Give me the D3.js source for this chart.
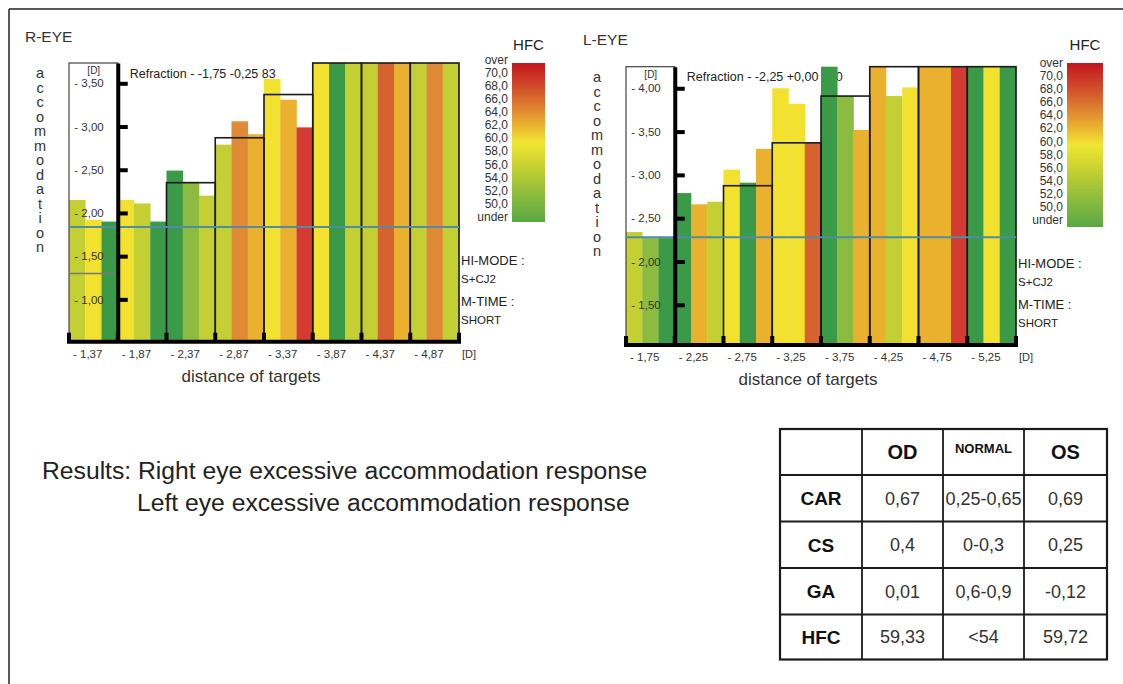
<!DOCTYPE html>
<html>
<head>
<meta charset="utf-8">
<script src="https://cdn.jsdelivr.net/npm/d3@7"></script>
<style>
  body { margin: 0; background: #fff; }
  svg { display: block; font-family: "Liberation Sans", Arial, sans-serif; }
</style>
</head>
<body>
<div id="chart"></div>
<script>
// ---- data ----
// R-EYE
const rTargets = ["- 1,37", "- 1,87", "- 2,37", "- 2,87", "- 3,37", "- 3,87", "- 4,37", "- 4,87"];
const rAccom = [[2.15, 1.92, 1.90], [2.15, 2.11, 1.90], [2.49, 2.36, 2.20], [2.79, 3.06, 2.91],
                [3.55, 3.31, 2.99], [3.90, 3.90, 3.90], [3.90, 3.90, 3.90], [3.90, 3.90, 3.90]];
const rHfc = [[55.5, 59, 49], [59, 55.5, 49], [49, 52.5, 55.5], [55.5, 65.5, 62.5],
              [59, 62.5, 70.5], [59, 49, 55.5], [55.5, 68, 62.5], [55.5, 65.5, 55.5]];
const rOutline = [null, null, 2.35, 2.87, 3.37, 3.87, 4.37, 4.87];
const rTicks = [1.0, 1.5, 2.0, 2.5, 3.0, 3.5];
const rRefLine = 1.836;
const rGrayLine = 1.30;
const rRefraction = "Refraction - -1,75 -0,25 83";

// L-EYE
const lTargets = ["- 1,75", "- 2,25", "- 2,75", "- 3,25", "- 3,75", "- 4,25", "- 4,75", "- 5,25"];
const lAccom = [[2.34, 2.27, 2.27], [2.79, 2.66, 2.69], [3.06, 2.91, 3.30], [4.00, 3.82, 3.37],
                [4.50, 3.91, 3.52], [4.50, 3.91, 4.01], [4.50, 4.50, 4.50], [4.50, 4.50, 4.50]];
const lHfc = [[55.5, 52.5, 49], [49, 62.5, 55.5], [59, 49, 62.5], [59, 59, 68],
              [49, 52.5, 62.5], [62.5, 55.5, 59], [62.5, 62.5, 70.5], [49, 59, 49]];
const lOutline = [null, null, 2.875, 3.37, 3.91, 4.40, 4.90, 5.40];
const lTicks = [1.5, 2.0, 2.5, 3.0, 3.5, 4.0];
const lRefLine = 2.28;
const lRefraction = "Refraction - -2,25 +0,00 180";

// HFC legend
const hfcLabels = ["over", "70,0", "68,0", "66,0", "64,0", "62,0", "60,0", "58,0", "56,0", "54,0", "52,0", "50,0", "under"];
const hfcThresholds = [51, 54, 57, 61, 64, 67, 69];
const hfcColors = ["#3b9a47", "#8cbc3f", "#c3cf32", "#f3e12f", "#eab12f", "#e08a36", "#d6632f", "#d43c33"];

// results table
const tableHead = ["", "OD", "NORMAL", "OS"];
const tableRows = ["CAR", "CS", "GA", "HFC"];
const odValues = ["0,67", "0,4", "0,01", "59,33"];
const normalValues = ["0,25-0,65", "0-0,3", "0,6-0,9", "<54"];
const osValues = ["0,69", "0,25", "-0,12", "59,72"];

const resultLines = ["Results: Right eye excessive accommodation response",
                     "Left eye excessive accommodation response"];

// ---- drawing ----
const W = 1123, H = 684;
const svg = d3.select("#chart").append("svg")
    .attr("width", W)
    .attr("height", H);

// page frame
svg.append("line").attr("x1", 9).attr("y1", 9).attr("x2", W).attr("y2", 9)
    .attr("stroke", "#222").attr("stroke-width", 1.5);
svg.append("line").attr("x1", 9).attr("y1", 9).attr("x2", 9).attr("y2", H)
    .attr("stroke", "#222").attr("stroke-width", 1.5);

const color = d3.scaleThreshold().domain(hfcThresholds).range(hfcColors);

function fmt(v) { return "- " + v.toFixed(2).replace(".", ","); }

function drawEye(o) {
    const g = svg.append("g");

    const x = d3.scaleBand().domain(o.targets).range([o.x0, o.x1]).padding(0);
    const y = d3.scaleLinear().domain(o.yDomain).range([o.bottom, o.top]).clamp(true);
    const sub = d3.scaleBand().domain([0, 1, 2]).range([0, x.bandwidth()]);
    const axisX = x(o.targets[1]);

    // title
    g.append("text").attr("x", o.titleX).attr("y", o.titleY)
        .attr("font-size", 15.5).attr("fill", "#333").text(o.title);

    // vertical "accommodation"
    g.append("text")
        .attr("font-size", 14.5).attr("fill", "#333").attr("text-anchor", "middle")
        .selectAll("tspan")
        .data("accommodation".split(""))
        .join("tspan")
        .attr("x", o.labelX)
        .attr("y", (d, i) => o.labelY + i * 14.5)
        .text(d => d);

    // refraction text sits behind the bars
    g.append("text").attr("x", axisX + 12).attr("y", o.refY)
        .attr("font-size", 12.5).attr("fill", "#222").text(o.refraction);

    // bars
    const bars = [];
    o.targets.forEach((t, gi) => {
        o.accom[gi].forEach((v, bi) => bars.push({ t: t, b: bi, v: v, hfc: o.hfc[gi][bi] }));
    });
    g.append("g").selectAll("rect")
        .data(bars)
        .join("rect")
        .attr("x", d => x(d.t) + sub(d.b))
        .attr("width", sub.bandwidth() + 0.3)
        .attr("y", d => y(d.v))
        .attr("height", d => o.bottom - y(d.v))
        .attr("fill", d => color(d.hfc));

    // left box
    g.append("rect")
        .attr("x", o.x0).attr("y", o.top)
        .attr("width", axisX - o.x0).attr("height", o.bottom - o.top)
        .attr("fill", "none").attr("stroke", "#444").attr("stroke-width", 1.2);

    // target outlines
    g.append("g").selectAll("rect")
        .data(o.targets.map((t, i) => ({ t: t, v: o.outline[i] })).filter(d => d.v != null))
        .join("rect")
        .attr("x", d => x(d.t))
        .attr("width", x.bandwidth())
        .attr("y", d => y(d.v))
        .attr("height", d => o.bottom - y(d.v))
        .attr("fill", "none")
        .attr("stroke", "#1a1a1a")
        .attr("stroke-width", 1.6);

    // reference line across the chart
    g.append("line")
        .attr("x1", o.x0).attr("x2", o.x1)
        .attr("y1", y(o.refLine)).attr("y2", y(o.refLine))
        .attr("stroke", "#4f8ca5").attr("stroke-width", 2);

    if (o.grayLine != null) {
        g.append("line")
            .attr("x1", o.x0).attr("x2", axisX)
            .attr("y1", y(o.grayLine)).attr("y2", y(o.grayLine))
            .attr("stroke", "#777").attr("stroke-width", 1.5);
    }

    // y axis (ticks point right, labels inside the left box)
    const yAxis = d3.axisLeft(y)
        .tickValues(o.ticks)
        .tickSize(-10)
        .tickSizeOuter(0)
        .tickPadding(14)
        .tickFormat(fmt);
    const ya = g.append("g")
        .attr("transform", "translate(" + axisX + ",0)")
        .call(yAxis);
    ya.select(".domain").attr("stroke", "#000").attr("stroke-width", 4);
    ya.selectAll(".tick line").attr("stroke", "#000").attr("stroke-width", 4);
    ya.selectAll(".tick text")
        .attr("font-size", 11.5).attr("fill", "#333")
        .attr("font-family", "Liberation Sans, Arial, sans-serif");

    g.append("text").attr("x", axisX - 24).attr("y", o.top + 11)
        .attr("font-size", 10).attr("fill", "#333").attr("text-anchor", "middle").text("[D]");

    // bottom axis
    g.append("line")
        .attr("x1", o.x0 - 2).attr("x2", o.x1 + 2)
        .attr("y1", o.bottom).attr("y2", o.bottom)
        .attr("stroke", "#000").attr("stroke-width", 4);
    const bounds = o.targets.map(t => x(t)).concat([o.x1]);
    g.append("g").selectAll("line")
        .data(bounds)
        .join("line")
        .attr("x1", d => d).attr("x2", d => d)
        .attr("y1", o.bottom).attr("y2", o.bottom - 9)
        .attr("stroke", "#000").attr("stroke-width", 4);
    g.append("g").selectAll("text")
        .data(o.targets)
        .join("text")
        .attr("x", d => x(d) + 4)
        .attr("y", o.bottom + 16)
        .attr("font-size", 11.5).attr("fill", "#333")
        .text(d => d);
    g.append("text").attr("x", o.x1 + 3).attr("y", o.bottom + 16)
        .attr("font-size", 11).attr("fill", "#333").text("[D]");

    g.append("text")
        .attr("x", (o.x0 + o.x1) / 2 - 13).attr("y", o.bottom + 40)
        .attr("text-anchor", "middle").attr("font-size", 17).attr("fill", "#333")
        .text("distance of targets");

    // mode info
    const info = [["HI-MODE :", 13, 0], ["S+CJ2", 11.5, 18], ["M-TIME :", 13, 41], ["SHORT", 11.5, 59]];
    g.append("g").selectAll("text")
        .data(info)
        .join("text")
        .attr("x", o.x1 + 2)
        .attr("y", d => o.infoY + d[2])
        .attr("font-size", d => d[1]).attr("fill", "#222")
        .text(d => d[0]);

    // HFC legend
    const gradId = "grad" + o.title;
    const grad = svg.append("defs").append("linearGradient")
        .attr("id", gradId).attr("x1", 0).attr("y1", 0).attr("x2", 0).attr("y2", 1);
    [[0, "#c4161d"], [0.14, "#d0482a"], [0.3, "#e08a30"], [0.4, "#eab72f"], [0.5, "#f2e632"],
     [0.66, "#c4d030"], [0.82, "#8fbe3c"], [1, "#5aa844"]].forEach(s => {
        grad.append("stop").attr("offset", s[0]).attr("stop-color", s[1]);
    });
    g.append("rect")
        .attr("x", o.legX).attr("y", o.legTop)
        .attr("width", o.legW).attr("height", o.legBottom - o.legTop)
        .attr("fill", "url(#" + gradId + ")");
    g.append("text")
        .attr("x", o.legX + o.legW / 2).attr("y", o.legTop - 13)
        .attr("text-anchor", "middle").attr("font-size", 15).attr("fill", "#222")
        .text("HFC");
    const step = (o.legLabelBottom - o.legLabelTop) / (hfcLabels.length - 1);
    g.append("g").selectAll("text")
        .data(hfcLabels)
        .join("text")
        .attr("x", o.legX - 4)
        .attr("y", (d, i) => o.legLabelTop + i * step)
        .attr("text-anchor", "end").attr("font-size", 12).attr("fill", "#333")
        .text(d => d);
}

drawEye({
    title: "R-EYE", titleX: 25, titleY: 42,
    labelX: 40, labelY: 78,
    targets: rTargets, accom: rAccom, hfc: rHfc, outline: rOutline, ticks: rTicks,
    refLine: rRefLine, grayLine: rGrayLine, refraction: rRefraction, refY: 78,
    x0: 69, x1: 459, top: 63, bottom: 341.7, yDomain: [0.51, 3.735],
    infoY: 265,
    legX: 512, legW: 33, legTop: 63, legBottom: 222,
    legLabelTop: 63.5, legLabelBottom: 221
});

drawEye({
    title: "L-EYE", titleX: 583, titleY: 45,
    labelX: 597, labelY: 82,
    targets: lTargets, accom: lAccom, hfc: lHfc, outline: lOutline, ticks: lTicks,
    refLine: lRefLine, grayLine: null, refraction: lRefraction, refY: 81,
    x0: 626, x1: 1016, top: 66.7, bottom: 345, yDomain: [1.036, 4.249],
    infoY: 268,
    legX: 1067, legW: 36, legTop: 63, legBottom: 227,
    legLabelTop: 67, legLabelBottom: 224
});

// results text
svg.append("text").attr("x", 42).attr("y", 479)
    .attr("font-size", 24.7).attr("fill", "#222").text(resultLines[0]);
svg.append("text").attr("x", 137).attr("y", 511)
    .attr("font-size", 24.7).attr("fill", "#222").text(resultLines[1]);

// table
const colX = [780, 862, 943, 1024, 1107];
const rowY = [429, 475, 521.5, 568, 614.5, 659.5];
const tg = svg.append("g");
tg.append("rect").attr("x", colX[0]).attr("y", rowY[0])
    .attr("width", colX[4] - colX[0]).attr("height", rowY[5] - rowY[0])
    .attr("fill", "none").attr("stroke", "#1a1a1a").attr("stroke-width", 2.2);
tg.selectAll("line.c").data(colX.slice(1, 4)).join("line").attr("class", "c")
    .attr("x1", d => d).attr("x2", d => d).attr("y1", rowY[0]).attr("y2", rowY[5])
    .attr("stroke", "#1a1a1a").attr("stroke-width", 1.8);
tg.selectAll("line.r").data(rowY.slice(1, 5)).join("line").attr("class", "r")
    .attr("x1", colX[0]).attr("x2", colX[4]).attr("y1", d => d).attr("y2", d => d)
    .attr("stroke", "#1a1a1a").attr("stroke-width", 1.8);

const cx = i => (colX[i] + colX[i + 1]) / 2;
const cy = j => (rowY[j] + rowY[j + 1]) / 2;
tg.selectAll("text.h").data(tableHead).join("text").attr("class", "h")
    .attr("x", (d, i) => cx(i)).attr("y", cy(0))
    .attr("dy", d => d === "NORMAL" ? "0.1em" : "0.36em")
    .attr("text-anchor", "middle").attr("font-weight", "bold")
    .attr("font-size", d => d === "NORMAL" ? 13 : 20).attr("fill", "#111")
    .text(d => d);
const cells = [];
tableRows.forEach((r, j) => {
    cells.push({ c: 0, r: j + 1, t: r, b: true });
    cells.push({ c: 1, r: j + 1, t: odValues[j] });
    cells.push({ c: 2, r: j + 1, t: normalValues[j] });
    cells.push({ c: 3, r: j + 1, t: osValues[j] });
});
tg.selectAll("text.v").data(cells).join("text").attr("class", "v")
    .attr("x", d => cx(d.c)).attr("y", d => cy(d.r)).attr("dy", "0.36em")
    .attr("text-anchor", "middle")
    .attr("font-weight", d => d.b ? "bold" : "normal")
    .attr("font-size", d => d.b ? 19 : 18)
    .attr("fill", d => d.b ? "#111" : "#333")
    .text(d => d.t);
</script>
</body>
</html>
